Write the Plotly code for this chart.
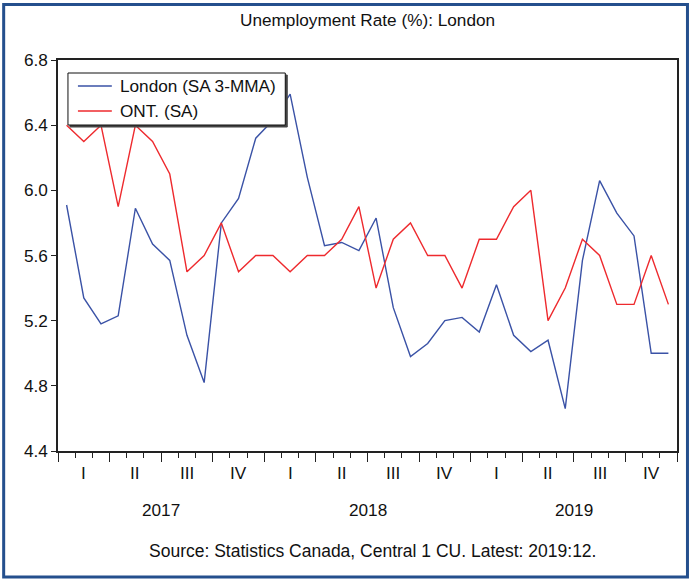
import plotly.graph_objects as go

# ---- data (monthly, 2017:01 .. 2019:12) ----
months = list(range(36))
london_sa_3mma = [5.91, 5.34, 5.18, 5.23, 5.89, 5.67, 5.57, 5.11, 4.82, 5.80, 5.95, 6.32,
                  6.43, 6.59, 6.08, 5.66, 5.68, 5.63, 5.83, 5.28, 4.98, 5.06, 5.20, 5.22,
                  5.13, 5.42, 5.11, 5.01, 5.08, 4.66, 5.57, 6.06, 5.86, 5.72, 5.00, 5.00]
ont_sa = [6.4, 6.3, 6.4, 5.9, 6.4, 6.3, 6.1, 5.5, 5.6, 5.8, 5.5, 5.6,
          5.6, 5.5, 5.6, 5.6, 5.7, 5.9, 5.4, 5.7, 5.8, 5.6, 5.6, 5.4,
          5.7, 5.7, 5.9, 6.0, 5.2, 5.4, 5.7, 5.6, 5.3, 5.3, 5.6, 5.3]
series_names = ["London (SA 3-MMA)", "ONT. (SA)"]
series_colors = ["#3a52a6", "#ee2a2e"]
quarter_labels = ["I", "II", "III", "IV"] * 3
quarter_centers = [1 + 3 * q for q in range(12)]
year_labels = ["2017", "2018", "2019"]
year_centers = [5.5, 17.5, 29.5]
y_ticks = [4.4, 4.8, 5.2, 5.6, 6.0, 6.4, 6.8]

FONT = "Liberation Sans, Arial, sans-serif"
W, H = 691, 580
L, R, T, B = 58, 12, 60, 129
PW, PH = W - L - R, H - T - B
FS = 17.2


def px_x(px):
    return (px - L) / PW


def px_y(py):
    return 1 - (py - T) / PH


fig = go.Figure()
for vals, name, col in zip([london_sa_3mma, ont_sa], series_names, series_colors):
    fig.add_trace(go.Scatter(x=months, y=vals, mode="lines", name=name,
                             showlegend=False,
                             line=dict(color=col, width=1.4)))

txt = dict(color="#111", size=FS)
annotations = [
    dict(text="Unemployment Rate (%): London", x=px_x(368), y=px_y(20),
         xref="paper", yref="paper", showarrow=False, yanchor="middle",
         font=txt),
    dict(text="Source: Statistics Canada, Central 1 CU. Latest: 2019:12.",
         x=px_x(374), y=px_y(551), xref="paper", yref="paper", showarrow=False,
         yanchor="middle", font=dict(size=17.5, color="#111")),
]
for qc, ql in zip(quarter_centers, quarter_labels):
    annotations.append(dict(text=ql, x=qc, y=px_y(473), xref="x", yref="paper",
                            showarrow=False, yanchor="middle", font=txt))
for yc, yl in zip(year_centers, year_labels):
    annotations.append(dict(text=yl, x=yc, y=px_y(510), xref="x", yref="paper",
                            showarrow=False, yanchor="middle", font=txt))

# legend box (drawn manually to match the original layout)
LG_X0, LG_X1, LG_Y0, LG_Y1 = 68, 286, 73, 125
row_y = [86, 111]
shapes = [
    dict(type="rect", xref="paper", yref="paper",
         x0=px_x(3.5), x1=px_x(689.5), y0=px_y(577), y1=px_y(4.5),
         line=dict(color="#244f8d", width=3), layer="below"),
    dict(type="rect", xref="paper", yref="paper",
         x0=px_x(LG_X0 + 2), x1=px_x(LG_X1 + 2), y0=px_y(LG_Y1 + 2), y1=px_y(LG_Y0 + 2),
         line=dict(color="#444", width=1), fillcolor="#444", layer="above"),
    dict(type="rect", xref="paper", yref="paper",
         x0=px_x(LG_X0), x1=px_x(LG_X1), y0=px_y(LG_Y1), y1=px_y(LG_Y0),
         line=dict(color="#111", width=1), fillcolor="white", layer="above"),
]
for ry, name, col in zip(row_y, series_names, series_colors):
    shapes.append(dict(type="line", xref="paper", yref="paper",
                       x0=px_x(78), x1=px_x(112), y0=px_y(ry), y1=px_y(ry),
                       line=dict(color=col, width=1.4), layer="above"))
    annotations.append(dict(text=name, x=px_x(118), y=px_y(ry), xref="paper",
                            yref="paper", xanchor="left", yanchor="middle",
                            showarrow=False, font=txt))

fig.update_layout(
    width=W, height=H,
    margin=dict(l=L, r=R, t=T, b=B),
    paper_bgcolor="white", plot_bgcolor="white",
    font=dict(family=FONT, size=FS, color="#111"),
    showlegend=False,
    annotations=annotations,
    shapes=shapes,
    xaxis=dict(range=[-0.5, 35.5], showgrid=False, zeroline=False,
               showline=True, mirror=True, linecolor="#222", linewidth=1.5,
               tickmode="linear", tick0=-0.5, dtick=3, ticks="outside",
               ticklen=9, tickcolor="#222", tickwidth=1.2,
               showticklabels=False,
               minor=dict(tick0=-0.5, dtick=1, ticks="outside", ticklen=5,
                          tickcolor="#222", tickwidth=1, showgrid=False)),
    yaxis=dict(range=[4.4, 6.8], showgrid=False, zeroline=False,
               showline=True, mirror=True, linecolor="#222", linewidth=1.5,
               tickmode="array", tickvals=y_ticks,
               ticktext=[f"{v:.1f}" for v in y_ticks],
               ticks="outside", ticklen=5, tickcolor="#222",
               tickfont=dict(size=FS, color="#111")),
)

fig.write_html("out.html",
               config={"displayModeBar": False},
               post_script="document.body.style.margin='0';"
                           "document.body.style.overflow='hidden';")
